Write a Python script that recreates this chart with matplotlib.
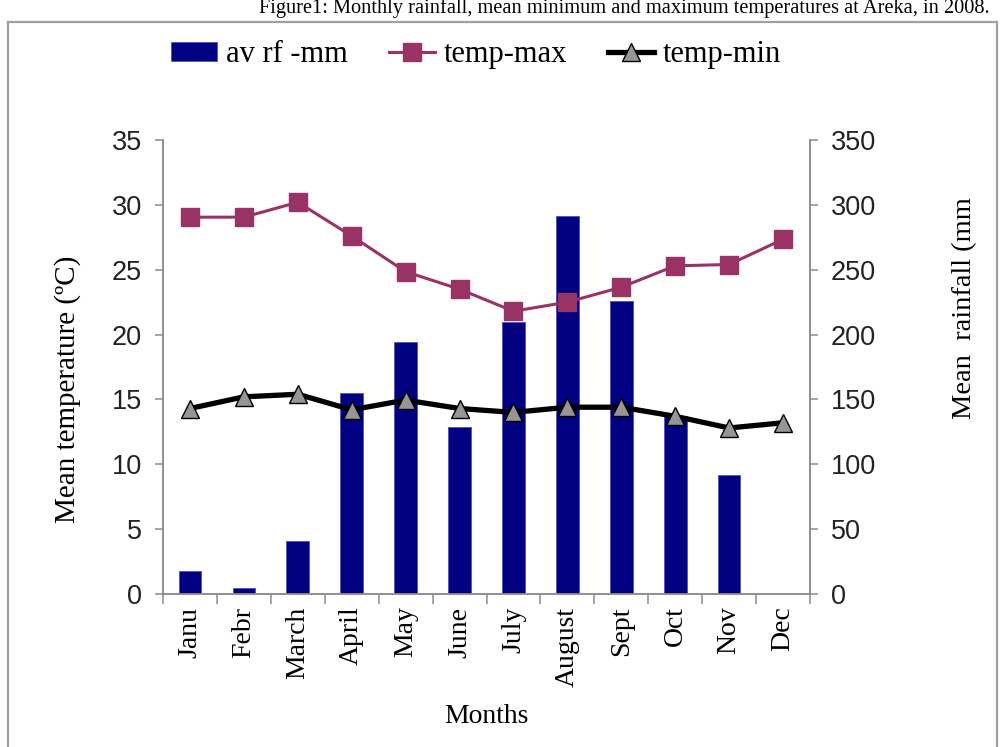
import matplotlib
matplotlib.use("Agg")
import matplotlib.pyplot as plt
from matplotlib.lines import Line2D
import numpy as np

months = ["Janu", "Febr", "March", "April", "May", "June", "July",
          "August", "Sept", "Oct", "Nov", "Dec"]
rainfall = [17.6, 4.6, 40.8, 155, 194, 128.6, 210, 291.7, 226, 137.6, 91.9, 0]
temp_max = [29.05, 29.05, 30.2, 27.6, 24.85, 23.5, 21.8, 22.5, 23.65, 25.3, 25.4, 27.35]
temp_min = [14.3, 15.2, 15.4, 14.2, 14.95, 14.3, 14.0, 14.4, 14.4, 13.7, 12.8, 13.2]
temp_ticks = [0, 5, 10, 15, 20, 25, 30, 35]
rain_ticks = [0, 50, 100, 150, 200, 250, 300, 350]

SERIF = "Liberation Serif"
NUM = "Liberation Sans"
GREY = "#8c8c8c"

fig = plt.figure(figsize=(10, 7.47), dpi=100)
ax = fig.add_axes([0.163, 0.2048, 0.647, 0.6078])
axr = ax.twinx()
ax.set_zorder(axr.get_zorder() + 1)
ax.patch.set_visible(False)

x = np.arange(len(months))
bars = axr.bar(x, rainfall, width=0.42, color="#000080", edgecolor="#5050c0",
               linewidth=0.6, label="av rf -mm")
lmax, = ax.plot(x, temp_max, color="#993366", lw=2.2, marker="s", ms=12.5,
                mfc="#993366", mec="#993366", label="temp-max")
lmin, = ax.plot(x, temp_min, color="black", lw=3.8, marker="^", ms=13,
                mfc="#969696", mec="black", mew=1.0, label="temp-min")

ax.set_xlim(-0.5, 11.5)
ax.set_ylim(0, 35)
axr.set_ylim(0, 350)
ax.set_yticks(temp_ticks)
axr.set_yticks(rain_ticks)
ax.set_xticks(x)
ax.set_xticklabels(months, rotation=90, fontfamily=SERIF, fontsize=20)
ax.set_xticks(np.arange(-0.5, 12, 1), minor=True)
ax.tick_params(axis="x", which="major", length=0, pad=9)
ax.tick_params(axis="x", which="minor", length=7, width=1.1, color=GREY, direction="out")
ax.tick_params(axis="y", length=6, width=1.1, color=GREY, direction="out", pad=9)
axr.tick_params(axis="y", length=6, width=1.1, color=GREY, direction="out", pad=9)
for lab in ax.get_yticklabels() + axr.get_yticklabels():
    lab.set_fontfamily(NUM)
    lab.set_fontsize(19.5)
    lab.set_color("#222222")

for a in (ax, axr):
    a.spines["top"].set_visible(False)
    for s in ("left", "right", "bottom"):
        a.spines[s].set_color(GREY)
        a.spines[s].set_linewidth(1.1)

fig.text(0.068, 0.479, "Mean temperature (ºC)", rotation=90, ha="center", va="center",
         fontfamily=SERIF, fontsize=21)
fig.text(0.965, 0.588, "Mean  rainfall (mm", rotation=90, ha="center", va="center",
         fontfamily=SERIF, fontsize=20.5)
fig.text(0.486, 0.041, "Months", ha="center", va="center", fontfamily=SERIF, fontsize=20)

fig.text(0.624, 0.983, "Figure1: Monthly rainfall, mean minimum and maximum temperatures at Areka, in 2008.",
         ha="center", va="baseline", fontfamily=SERIF, fontsize=14.7)

fig.legend(handles=[bars, lmax, lmin], loc="center", bbox_to_anchor=(0.476, 0.927),
           ncol=3, frameon=False, prop={"family": SERIF, "size": 22},
           handlelength=1.5, handletextpad=0.28, columnspacing=1.35, handleheight=0.6)

# outer frame
fc = "#a0a0a0"
fig.add_artist(Line2D([0.008, 0.008], [-0.01, 0.9705], transform=fig.transFigure, color=fc, lw=1.6))
fig.add_artist(Line2D([0.008, 0.997], [0.9705, 0.9705], transform=fig.transFigure, color=fc, lw=1.6))
fig.add_artist(Line2D([0.997, 0.997], [-0.01, 0.9705], transform=fig.transFigure, color=fc, lw=1.6))

fig.savefig("out.png", dpi=100)
